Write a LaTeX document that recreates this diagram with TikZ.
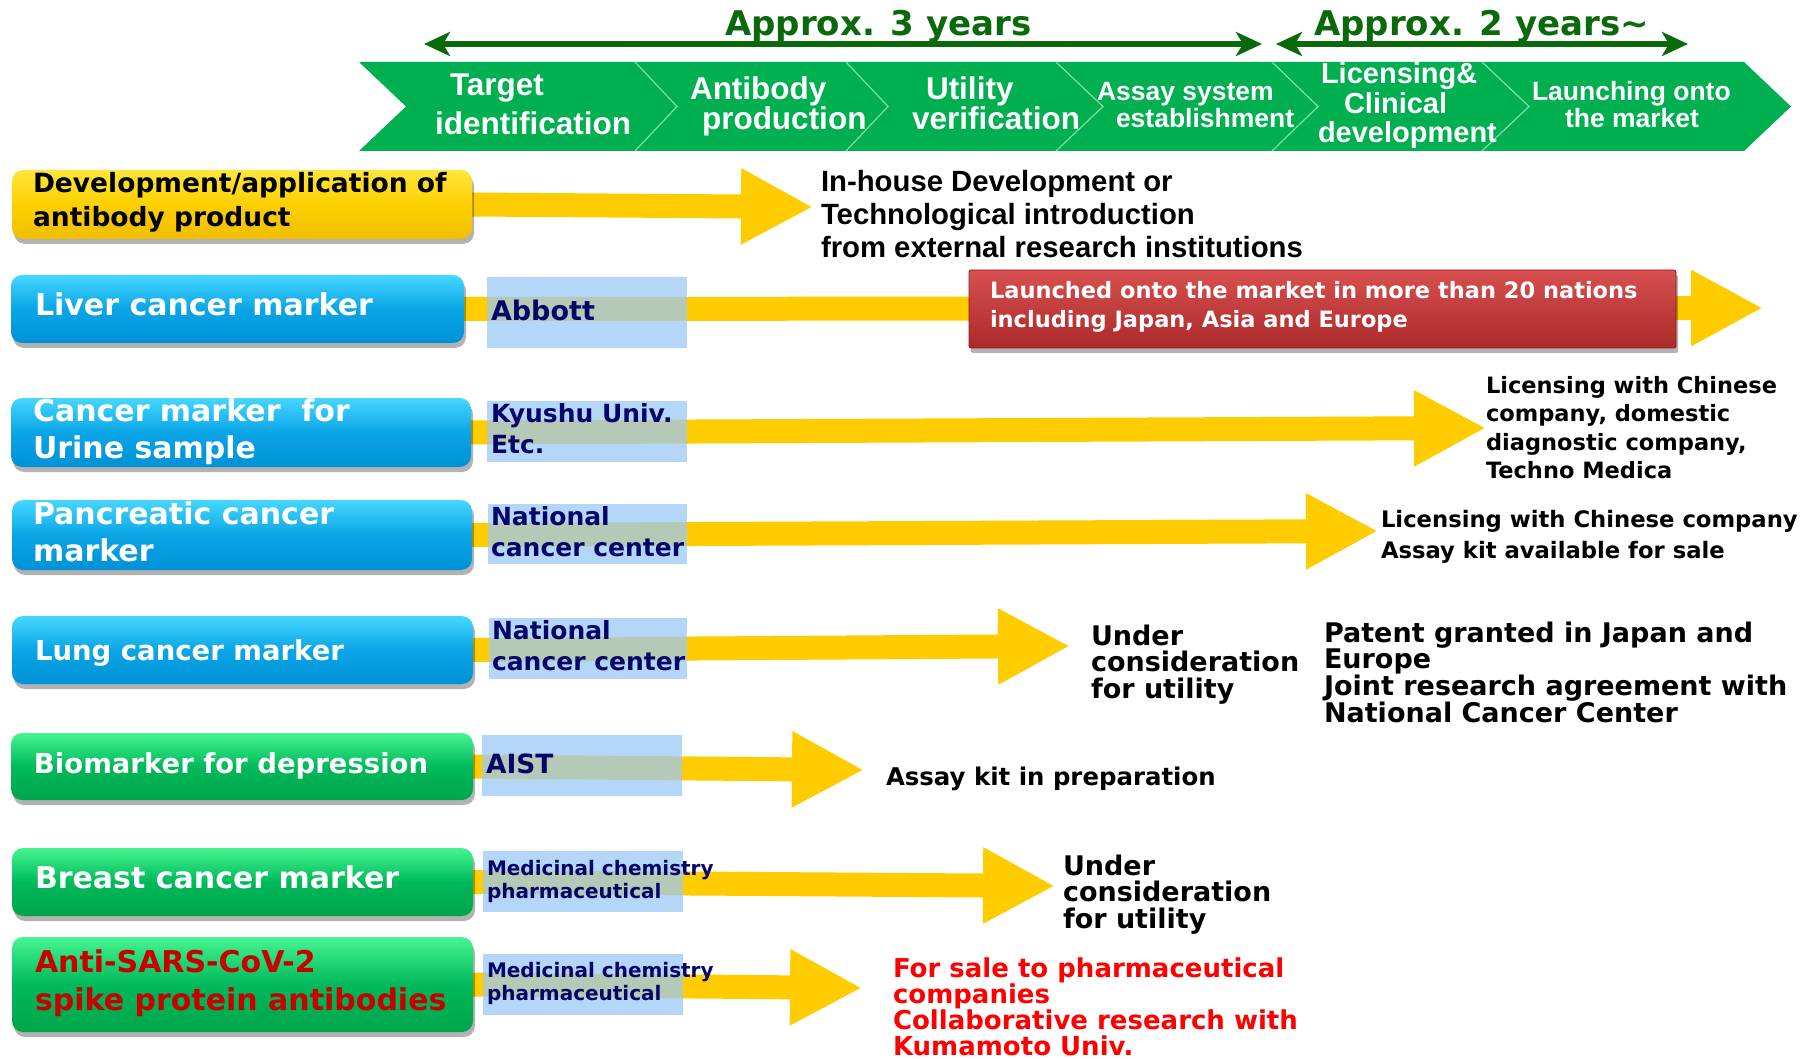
\documentclass[tikz,border=0pt]{standalone}
\usepackage{fontspec}
\setmainfont{DejaVu Sans}
\newfontfamily\arialf{Liberation Sans}
\usetikzlibrary{arrows.meta,shadows}
\pgfdeclarelayer{bg}
\pgfsetlayers{bg,main}
\definecolor{hdrgreen}{RGB}{0,176,80}
\definecolor{sepgreen}{RGB}{130,220,165}
\definecolor{dkgreen}{RGB}{10,105,10}
\definecolor{yel}{RGB}{255,204,0}
\definecolor{instblue}{RGB}{154,202,248}
\definecolor{navy}{RGB}{5,5,105}
\definecolor{dred}{RGB}{200,0,0}
\definecolor{bred}{RGB}{255,0,0}
\definecolor{bTop}{RGB}{70,215,255}
\definecolor{bMid}{RGB}{10,165,230}
\definecolor{bBot}{RGB}{0,145,215}
\definecolor{gTop}{RGB}{70,245,145}
\definecolor{gMid}{RGB}{0,185,90}
\definecolor{gBot}{RGB}{0,165,75}
\definecolor{yTop}{RGB}{255,230,60}
\definecolor{yMid}{RGB}{252,208,0}
\definecolor{yBot}{RGB}{240,190,0}
\definecolor{rTop}{RGB}{215,80,80}
\definecolor{rBot}{RGB}{172,42,42}
\definecolor{rEdge}{RGB}{140,30,30}
\newcommand\mtext[2]{\vtop{\baselineskip=#1\lineskiplimit=-500pt\lineskip=0pt\relax\halign{##\hfil\cr#2\crcr}}}
\tikzset{
  vf/.style={font=\bfseries\fontsize{#1}{#1}\selectfont},
  af/.style={font=\arialf\bfseries\fontsize{#1}{#1}\selectfont},
  txt/.style={anchor=base west, inner sep=0pt, outer sep=0pt},
  mainbox/.style={draw=none, rounded corners=11pt, inner sep=0pt, outer sep=0pt,
    drop shadow={shadow xshift=2pt, shadow yshift=-5pt, opacity=0.3, fill=black}},
  bluebox/.style={mainbox, top color=bTop, bottom color=bBot, middle color=bMid},
  greenbox/.style={mainbox, top color=gTop, bottom color=gBot, middle color=gMid},
  yellowbox/.style={mainbox, top color=yTop, bottom color=yBot, middle color=yMid},
  redbox/.style={draw=rEdge, line width=0.8pt, rounded corners=2pt, inner sep=0pt,
    top color=rTop, bottom color=rBot,
    drop shadow={shadow xshift=2pt, shadow yshift=-5pt, opacity=0.3, fill=black}},
  instbox/.style={fill=instblue, fill opacity=0.74, draw=none, inner sep=0pt,
    minimum width=200pt},
  yarrow/.style={draw=yel, line width=24pt, -{Triangle[length=72pt 0 0, width=71pt 0 0]}},
  hdrarrow/.style={draw=dkgreen, line width=6pt,
    {Stealth[length=26pt 0 0, width=24pt 0 0, inset=7pt 0 0]}-{Stealth[length=26pt 0 0, width=24pt 0 0, inset=7pt 0 0]}},
}
\begin{document}
\begin{tikzpicture}[x=1pt, y=-1pt]
\begin{pgfonlayer}{bg}
\fill[white] (0,0) rectangle (1808,1059);
\end{pgfonlayer}
\useasboundingbox (0,0) rectangle (1808,1059);

% header chevrons
\fill[hdrgreen] (359,62) -- (1744,62) -- (1791,106.5) -- (1744,151) -- (359,151) -- (406,106.5) -- cycle;
\foreach \t/\m in {635/677, 846/888, 1056/1103, 1272/1318, 1482/1529}{
  \draw[sepgreen, line width=1.2pt] (\t,62) -- (\m,106.5) -- (\t,151);
}
\node[txt, af=31.5, text=white] (h1) at (435,96) {\mtext{39pt}{\kern15pt Target\cr identification}};
\node[txt, af=31.5, text=white] (h2) at (690,100) {\mtext{30pt}{Antibody\cr \kern12pt production}};
\node[txt, af=31.5, text=white] (h3) at (912,100) {\mtext{30pt}{\kern14pt Utility\cr verification}};
\node[txt, af=26.5, text=white] (h4) at (1097,101) {\mtext{27pt}{Assay system\cr \kern19pt establishment}};
\node[txt, af=29, text=white] (h5) at (1318,84) {\mtext{29.5pt}{\kern3pt Licensing\&\cr \kern26pt Clinical\cr development}};
\node[txt, af=26.5, text=white] (h6) at (1532,101) {\mtext{27pt}{Launching onto\cr \kern33pt the market}};

% header arrows and labels
\coordinate (a3l) at (424,44);
\coordinate (a3r) at (1262,44);
\coordinate (a2l) at (1276,44);
\coordinate (a2r) at (1688,44);
\draw[hdrarrow] (a3l) -- (a3r);
\draw[hdrarrow] (a2l) -- (a2r);
\node[txt, vf=34, text=dkgreen] (ap3) at (725,36) {Approx. 3 years};
\node[txt, vf=34, text=dkgreen] (ap2) at (1314,36) {Approx. 2 years\textasciitilde};

% left boxes
\node[yellowbox, minimum width=460pt, minimum height=69pt] (b1) at (242,204.5) {};
\node[bluebox, minimum width=453pt, minimum height=68pt] (b2) at (237.5,309) {};
\node[bluebox, minimum width=460pt, minimum height=69pt] (b3) at (241,432.5) {};
\node[bluebox, minimum width=460pt, minimum height=70pt] (b4) at (242,535) {};
\node[bluebox, minimum width=461pt, minimum height=68pt] (b5) at (242.5,650) {};
\node[greenbox, minimum width=462pt, minimum height=67pt] (b6) at (242,766.5) {};
\node[greenbox, minimum width=461pt, minimum height=68pt] (b7) at (242.5,882) {};
\node[greenbox, minimum width=461pt, minimum height=95pt] (b8) at (242.5,984.5) {};

% arrow tips
\coordinate (tip1) at (813,207);
\coordinate (tip2) at (1763,308);
\coordinate (tip3) at (1486,428);
\coordinate (tip4) at (1378,531);
\coordinate (tip5) at (1070,646);
\coordinate (tip6) at (864,770);
\coordinate (tip7) at (1055,886);
\coordinate (tip8) at (862,988);
\begin{pgfonlayer}{bg}
\draw[yarrow] (b1.east) -- (tip1);
\draw[yarrow] (b2.east) -- (tip2);
\draw[yarrow] (b3.east) -- (tip3);
\draw[yarrow] (b4.east) -- (tip4);
\draw[yarrow] (b5.east) -- (tip5);
\draw[yarrow] (b6.east) -- (tip6);
\draw[yarrow] (b7.east) -- (tip7);
\draw[yarrow] (b8.east) -- (tip8);
\end{pgfonlayer}

% red box
\node[redbox, minimum width=707pt, minimum height=78pt] (rbox) at (1322.5,309) {};
\node[txt, vf=22.5, text=white] (rbt) at (990,299) {\mtext{29pt}{Launched onto the market in more than 20 nations\cr including Japan, Asia and Europe}};

% institution boxes
\node[instbox, minimum height=71pt] (ib1) at (587,312.5) {};
\node[instbox, minimum height=61pt] (ib2) at (587,431.5) {};
\node[instbox, minimum width=199pt, minimum height=60pt] (ib3) at (587.5,534) {};
\node[instbox, minimum width=198pt, minimum height=61pt] (ib4) at (588,648.5) {};
\node[instbox, minimum height=61pt] (ib5) at (582,765.5) {};
\node[instbox, minimum height=61pt] (ib6) at (583,881.5) {};
\node[instbox, minimum height=61pt] (ib7) at (583,984.5) {};

% box labels
\node[txt, vf=26.5, text=black] (t1) at (33,193) {\mtext{34pt}{Development/application of\cr antibody product}};
\node[txt, vf=30, text=white] (t2) at (35,316) {Liver cancer marker};
\node[txt, vf=30, text=white] (t3) at (33,421) {\mtext{37pt}{Cancer marker\ \ for\cr Urine sample}};
\node[txt, vf=30, text=white] (t4) at (33,524) {\mtext{37pt}{Pancreatic cancer\cr marker}};
\node[txt, vf=27.5, text=white] (t5) at (35,660) {Lung cancer marker};
\node[txt, vf=27.5, text=white] (t6) at (34,773) {Biomarker for depression};
\node[txt, vf=30, text=white] (t7) at (35,888) {Breast cancer marker};
\node[txt, vf=30, text=dred] (t8) at (35,972) {\mtext{38pt}{Anti-SARS-CoV-2\cr spike protein antibodies}};

% institution labels
\node[txt, vf=27, text=navy] (i1) at (491,321) {Abbott};
\node[txt, vf=25, text=navy] (i2) at (491,422) {\mtext{31pt}{Kyushu Univ.\cr Etc.}};
\node[txt, vf=25, text=navy] (i3) at (491,525) {\mtext{31pt}{National\cr cancer center}};
\node[txt, vf=25, text=navy] (i4) at (492,639) {\mtext{31pt}{National\cr cancer center}};
\node[txt, vf=26.5, text=navy] (i5) at (486,773) {AIST};
\node[txt, vf=20, text=navy] (i6) at (487,875) {\mtext{23pt}{Medicinal chemistry\cr pharmaceutical}};
\node[txt, vf=20, text=navy] (i7) at (487,977) {\mtext{23pt}{Medicinal chemistry\cr pharmaceutical}};

% right-hand texts
\node[txt, af=29.3, text=black] (r1) at (821,192) {\mtext{33pt}{In-house Development or\cr Technological introduction\cr from external research institutions}};
\node[txt, vf=22.5, text=black] (r2) at (1486,393) {\mtext{28.5pt}{Licensing with Chinese\cr company, domestic\cr diagnostic company,\cr Techno Medica}};
\node[txt, vf=22.7, text=black] (r3) at (1381,527) {\mtext{31pt}{Licensing with Chinese company\cr Assay kit available for sale}};
\node[txt, vf=27, text=black] (r4) at (1091,645) {\mtext{26.5pt}{Under\cr consideration\cr for utility}};
\node[txt, vf=27, text=black] (r5) at (1324,642) {\mtext{26.7pt}{Patent granted in Japan and\cr Europe\cr Joint research agreement with\cr National Cancer Center}};
\node[txt, vf=24.4, text=black] (r6) at (886,785) {Assay kit in preparation};
\node[txt, vf=27, text=black] (r7) at (1063,875) {\mtext{26.5pt}{Under\cr consideration\cr for utility}};
\node[txt, vf=26, text=bred] (r8) at (893,977) {\mtext{26.3pt}{For sale to pharmaceutical\cr companies\cr Collaborative research with\cr Kumamoto Univ.}};
\end{tikzpicture}
\end{document}
